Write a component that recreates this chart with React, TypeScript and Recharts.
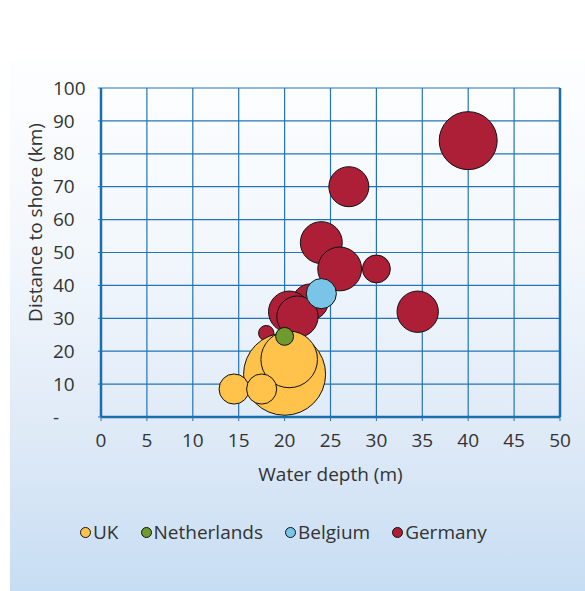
import { ScatterChart, Scatter, XAxis, YAxis, ZAxis, CartesianGrid, ReferenceLine } from "recharts";

// Offshore wind farms: water depth (m), distance to shore (km), bubble size ~ capacity
const ukDepth = [20, 20.5, 14.5, 17.5];
const ukDistance = [13, 17.5, 8.5, 8.5];
const ukSize = [630, 300, 85, 85];

const nlDepth = [20];
const nlDistance = [24.5];
const nlSize = [30];

const beDepth = [24];
const beDistance = [37.5];
const beSize = [85];

const deDepth = [18, 22.8, 20.5, 21.4, 24, 26, 30, 27, 34.5, 40];
const deDistance = [25.5, 35, 32, 30.5, 53, 45, 45, 70, 32, 84];
const deSize = [22, 120, 160, 160, 165, 180, 73, 150, 160, 315];

const xTicks = [0, 5, 10, 15, 20, 25, 30, 35, 40, 45, 50];
const yTicks = [0, 10, 20, 30, 40, 50, 60, 70, 80, 90, 100];

const COLORS = {
  UK: "#ffc34b",
  Netherlands: "#6f9a2c",
  Belgium: "#7ac5e7",
  Germany: "#ad1e37",
};

const LEGEND_ORDER = ["UK", "Netherlands", "Belgium", "Germany"] as const;

const FONT = "'Open Sans', 'Liberation Sans', Arial, sans-serif";
const TEXT = "#333333";
const GRID = "#2474b5";
const AXIS = "#1a6eae";

const toPoints = (xs: number[], ys: number[], zs: number[]) =>
  xs.map((x, i) => ({ x, y: ys[i], z: zs[i] }));

const ukData = toPoints(ukDepth, ukDistance, ukSize);
const nlData = toPoints(nlDepth, nlDistance, nlSize);
const beData = toPoints(beDepth, beDistance, beSize);
const deData = toPoints(deDepth, deDistance, deSize);

// biggest bubble is about 41px radius; z maps linearly to circle area
const MAX_AREA = Math.PI * 41 * 41;

const YTick = ({ x, y, payload }: any) => (
  <text x={x - 36} y={y} dy="0.35em" textAnchor="start" fill={TEXT} fontSize={19} fontFamily={FONT}>
    {payload.value === 0 ? "-" : payload.value}
  </text>
);

const YLabel = ({ viewBox }: any) => {
  const cx = viewBox.x - 6;
  const cy = viewBox.y + viewBox.height / 2 - 30;
  return (
    <text
      x={cx}
      y={cy}
      transform={`rotate(-90, ${cx}, ${cy})`}
      textAnchor="middle"
      dominantBaseline="central"
      fill={TEXT}
      fontSize={19}
      fontFamily={FONT}
    >
      Distance to shore (km)
    </text>
  );
};

const XLabel = ({ viewBox }: any) => (
  <text
    x={viewBox.x + viewBox.width / 2}
    y={viewBox.y + 57}
    textAnchor="middle"
    dominantBaseline="central"
    fill={TEXT}
    fontSize={19}
    fontFamily={FONT}
  >
    Water depth (m)
  </text>
);

export default function App() {
  return (
    <div style={{ position: "absolute", left: 0, top: 0, width: 585, height: 591, background: "#fff", overflow: "hidden" }}>
      <div
        style={{
          position: "absolute",
          left: 10,
          top: 60,
          right: 0,
          bottom: 0,
          background: "linear-gradient(to bottom, #fdfeff 0%, #f2f7fc 36%, #dfeaf7 70%, #c7ddf3 100%)",
        }}
      />
      <div style={{ position: "absolute", left: 0, top: 0 }}>
        <ScatterChart width={585} height={591} margin={{ top: 88, right: 25, bottom: 114, left: 41 }}>
          <CartesianGrid stroke={GRID} strokeWidth={1.2} />
          <XAxis
            type="number"
            dataKey="x"
            domain={[0, 50]}
            ticks={xTicks}
            interval={0}
            axisLine={{ stroke: AXIS, strokeWidth: 2.5 }}
            tickLine={{ stroke: GRID }}
            tickSize={4}
            tickMargin={13}
            height={60}
            tick={{ fill: TEXT, fontSize: 19, fontFamily: FONT }}
            label={<XLabel />}
          />
          <YAxis
            type="number"
            dataKey="y"
            domain={[0, 100]}
            ticks={yTicks}
            interval={0}
            axisLine={{ stroke: AXIS, strokeWidth: 2.5 }}
            tickLine={{ stroke: GRID }}
            tickSize={3}
            tickMargin={9}
            width={60}
            tick={<YTick />}
            label={<YLabel />}
          />
          <ZAxis type="number" dataKey="z" domain={[0, 630]} range={[0, MAX_AREA]} />
          <ReferenceLine x={50} stroke={AXIS} strokeWidth={2.5} />
          <Scatter name="Germany" data={deData} fill={COLORS.Germany} stroke="#111" strokeWidth={1} isAnimationActive={false} />
          <Scatter name="UK" data={ukData} fill={COLORS.UK} stroke="#111" strokeWidth={1} isAnimationActive={false} />
          <Scatter name="Netherlands" data={nlData} fill={COLORS.Netherlands} stroke="#111" strokeWidth={1} isAnimationActive={false} />
          <Scatter name="Belgium" data={beData} fill={COLORS.Belgium} stroke="#111" strokeWidth={1} isAnimationActive={false} />
        </ScatterChart>
      </div>
      <div
        style={{
          position: "absolute",
          left: 80,
          top: 519,
          display: "flex",
          alignItems: "center",
          fontFamily: FONT,
          fontSize: 19,
          color: TEXT,
        }}
      >
        {LEGEND_ORDER.map((name) => (
          <div key={name} style={{ display: "flex", alignItems: "center", marginRight: 22 }}>
            <span
              style={{
                display: "inline-block",
                width: 9,
                height: 9,
                borderRadius: "50%",
                border: "1px solid #111",
                background: COLORS[name],
                marginRight: 2,
              }}
            />
            <span>{name}</span>
          </div>
        ))}
      </div>
    </div>
  );
}
